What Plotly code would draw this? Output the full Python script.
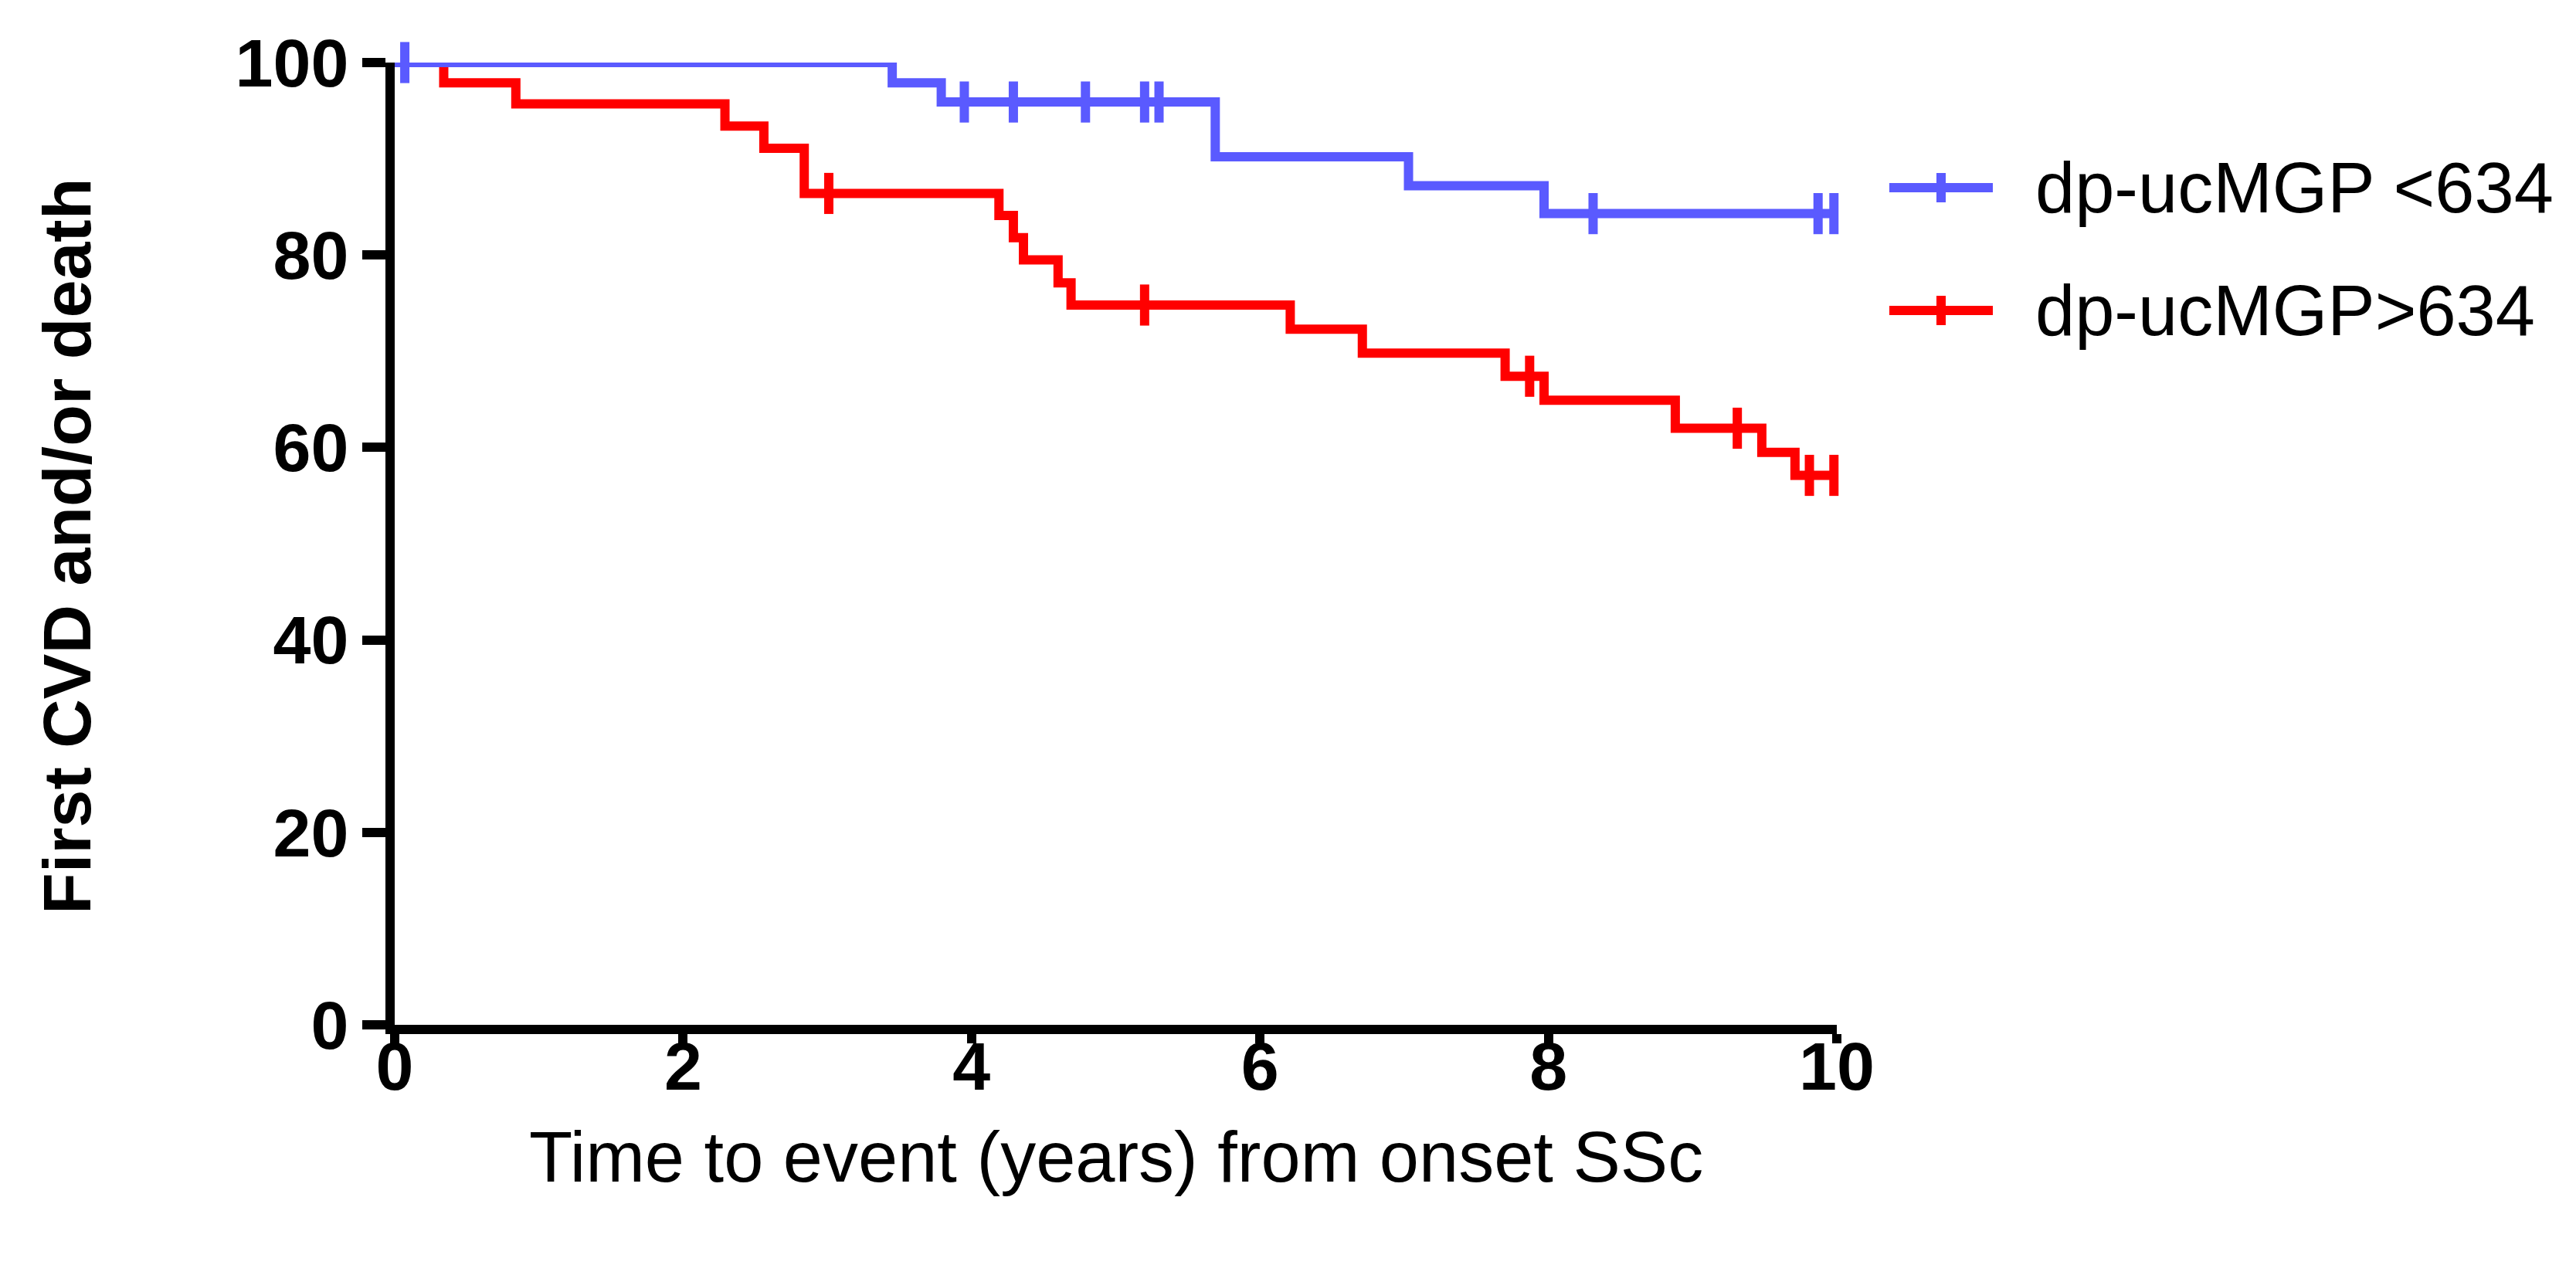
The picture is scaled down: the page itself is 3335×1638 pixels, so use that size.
import plotly.graph_objects as go

# ---- data (Kaplan-Meier steps) ----
blue_name = "dp-ucMGP <634"
blue_t = [0, 3.45, 3.79, 5.69, 7.03, 7.97, 10]
blue_s = [100, 97.9, 95.9, 90.2, 87.2, 84.3, 84.3]
blue_cens = [0.07, 3.95, 4.29, 4.79, 5.20, 5.30, 8.31, 9.87, 9.98]

red_name = "dp-ucMGP>634"
red_t = [0, 0.34, 0.84, 2.29, 2.56, 2.84, 4.19, 4.29, 4.36, 4.60, 4.69,
         6.21, 6.71, 7.70, 7.97, 8.88, 9.48, 9.71, 10]
red_s = [100, 97.9, 95.7, 93.4, 91.1, 86.4, 84.1, 81.8, 79.5, 77.1, 74.8,
         72.3, 69.8, 67.4, 64.9, 62.0, 59.5, 57.1, 57.1]
red_cens = [3.01, 5.20, 7.87, 9.31, 9.81, 9.98]

x_ticks = [0, 2, 4, 6, 8, 10]
y_ticks = [0, 20, 40, 60, 80, 100]

x_title = "Time to event (years) from onset SSc"
y_title = "First CVD and/or death"

BLUE = "#5A5AFF"
RED = "#FF0000"
FONT = "Liberation Sans, Arial, sans-serif"


def level_at(ts, ss, t):
    v = ss[0]
    for ti, si in zip(ts, ss):
        if ti <= t:
            v = si
    return v


W, H = 3335, 1638
L, R, T, B = 503, 965, 73, 319
PW, PH = W - L - R, H - T - B


def px_x(px):
    return (px - L) / PW


def px_y(py):
    return (H - B - py) / PH


fig = go.Figure()

for name, ts, ss, cens, col in [
    (red_name, red_t, red_s, red_cens, RED),
    (blue_name, blue_t, blue_s, blue_cens, BLUE),
]:
    fig.add_trace(go.Scatter(
        x=ts, y=ss, mode="lines", name=name,
        line=dict(color=col, width=12, shape="hv"),
        showlegend=False, hoverinfo="skip",
    ))
    fig.add_trace(go.Scatter(
        x=cens, y=[level_at(ts, ss, c) for c in cens], mode="markers",
        name=name + " censored", cliponaxis=False,
        marker=dict(symbol="line-ns", size=38, color=col,
                    line=dict(color=col, width=12)),
        showlegend=False, hoverinfo="skip",
    ))

axis_common = dict(
    showline=True, linecolor="black", linewidth=12,
    ticks="outside", tickwidth=12, tickcolor="black",
    showgrid=False, zeroline=False,
    tickfont=dict(family=FONT, size=88, color="black", weight="bold"),
)

fig.update_xaxes(range=[0, 10], tickvals=x_ticks, ticklen=12,
                 ticklabelstandoff=-46,
                 ticktext=[str(v) for v in x_ticks], **axis_common)
fig.update_yaxes(range=[0, 100], tickvals=y_ticks, ticklen=30,
                 ticktext=[str(v) for v in y_ticks], **axis_common)

shapes = []
annotations = []
legend_rows = [(blue_name, BLUE, 235), (red_name, RED, 394)]
for name, col, py in legend_rows:
    shapes.append(dict(type="line", xref="paper", yref="paper",
                       x0=px_x(2438), x1=px_x(2572), y0=px_y(py), y1=px_y(py),
                       line=dict(color=col, width=12)))
    shapes.append(dict(type="line", xref="paper", yref="paper",
                       x0=px_x(2505), x1=px_x(2505),
                       y0=px_y(py - 19), y1=px_y(py + 19),
                       line=dict(color=col, width=12)))
    annotations.append(dict(text=name, xref="paper", yref="paper",
                            x=px_x(2625), y=px_y(py), xanchor="left",
                            yanchor="middle", showarrow=False,
                            font=dict(family=FONT, size=92, color="black")))

annotations.append(dict(text=x_title, xref="paper", yref="paper",
                        x=px_x(1437), y=px_y(1490), xanchor="center",
                        yanchor="middle", showarrow=False,
                        font=dict(family=FONT, size=92, color="black")))
annotations.append(dict(text=y_title, xref="paper", yref="paper",
                        x=px_x(78), y=px_y(700), xanchor="center",
                        yanchor="middle", showarrow=False, textangle=-90,
                        font=dict(family=FONT, size=88, color="black",
                                  weight="bold")))

fig.update_layout(
    width=W, height=H,
    margin=dict(l=L, r=R, t=T, b=B, autoexpand=False),
    paper_bgcolor="white", plot_bgcolor="white",
    showlegend=False,
    shapes=shapes, annotations=annotations,
)

fig.write_html("out.html")
